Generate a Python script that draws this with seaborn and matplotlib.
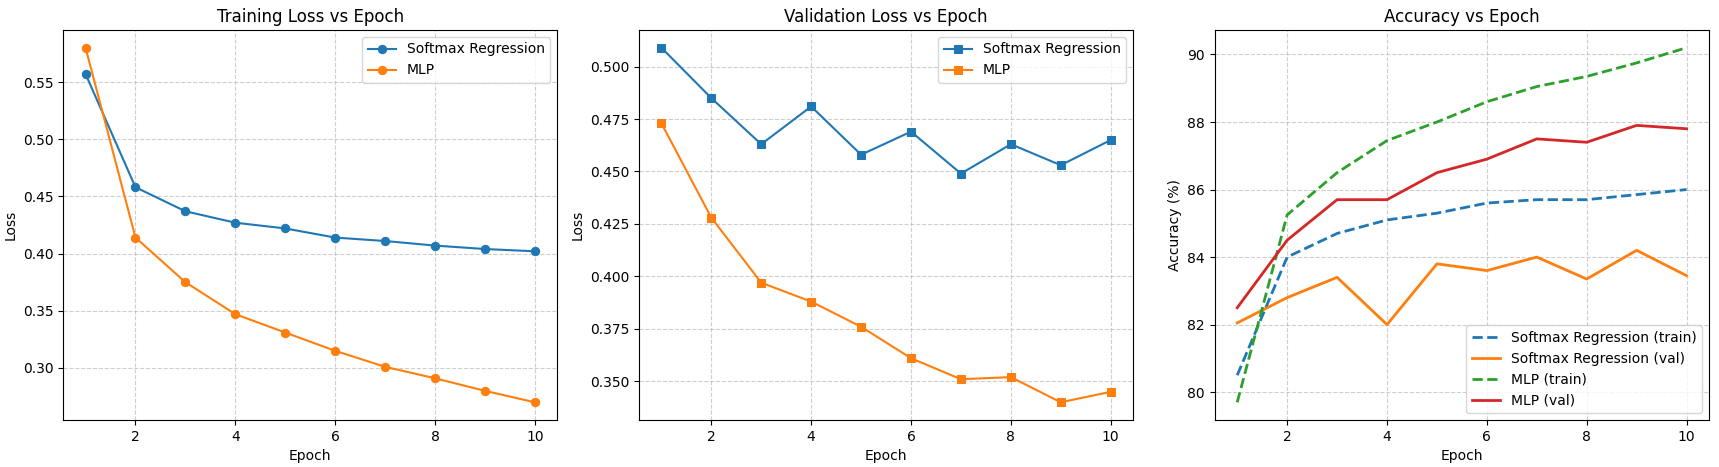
import seaborn as sns
import matplotlib.pyplot as plt
import pandas as pd
import numpy as np

# Per-epoch metrics
epochs = list(range(1, 11))

softmax_train_loss = [0.557, 0.458, 0.437, 0.427, 0.422, 0.414, 0.411, 0.407, 0.404, 0.402]
mlp_train_loss = [0.580, 0.414, 0.375, 0.347, 0.331, 0.315, 0.301, 0.291, 0.280, 0.270]

softmax_val_loss = [0.509, 0.485, 0.463, 0.481, 0.458, 0.469, 0.449, 0.463, 0.453, 0.465]
mlp_val_loss = [0.473, 0.428, 0.397, 0.388, 0.376, 0.361, 0.351, 0.352, 0.340, 0.345]

softmax_train_acc = [80.5, 84.0, 84.7, 85.1, 85.3, 85.6, 85.7, 85.7, 85.85, 86.0]
softmax_val_acc = [82.05, 82.8, 83.4, 82.0, 83.8, 83.6, 84.0, 83.35, 84.2, 83.45]
mlp_train_acc = [79.7, 85.25, 86.5, 87.45, 88.0, 88.6, 89.05, 89.35, 89.75, 90.2]
mlp_val_acc = [82.5, 84.5, 85.7, 85.7, 86.5, 86.9, 87.5, 87.4, 87.9, 87.8]

blue, orange, green, red = sns.color_palette("tab10")[:4]

fig, axes = plt.subplots(1, 3, figsize=(17.19, 4.67), dpi=100)
fig.subplots_adjust(left=0.0367, right=0.9942, top=0.9358, bottom=0.1006, wspace=0.165)

marker_kw = dict(markersize=6, markeredgewidth=0.75)

# Training loss
ax = axes[0]
sns.lineplot(x=epochs, y=softmax_train_loss, marker="o", markeredgecolor=blue,
             color=blue, label="Softmax Regression", ax=ax, **marker_kw)
sns.lineplot(x=epochs, y=mlp_train_loss, marker="o", markeredgecolor=orange,
             color=orange, label="MLP", ax=ax, **marker_kw)
ax.set_title("Training Loss vs Epoch", fontsize=12)
ax.set_ylabel("Loss")

# Validation loss
ax = axes[1]
sns.lineplot(x=epochs, y=softmax_val_loss, marker="s", markeredgecolor=blue,
             color=blue, label="Softmax Regression", ax=ax, **marker_kw)
sns.lineplot(x=epochs, y=mlp_val_loss, marker="s", markeredgecolor=orange,
             color=orange, label="MLP", ax=ax, **marker_kw)
ax.set_title("Validation Loss vs Epoch", fontsize=12)
ax.set_ylabel("Loss")

# Accuracy
ax = axes[2]
sns.lineplot(x=epochs, y=softmax_train_acc, color=blue, linestyle="--", linewidth=2,
             label="Softmax Regression (train)", ax=ax)
sns.lineplot(x=epochs, y=softmax_val_acc, color=orange, linewidth=2,
             label="Softmax Regression (val)", ax=ax)
sns.lineplot(x=epochs, y=mlp_train_acc, color=green, linestyle="--", linewidth=2,
             label="MLP (train)", ax=ax)
sns.lineplot(x=epochs, y=mlp_val_acc, color=red, linewidth=2,
             label="MLP (val)", ax=ax)
ax.set_title("Accuracy vs Epoch", fontsize=12)
ax.set_ylabel("Accuracy (%)")
ax.legend(loc="lower right")

for ax in axes:
    ax.set_xlabel("Epoch")
    ax.grid(True, linestyle="--", alpha=0.6)

plt.savefig("out.png", dpi=100)
plt.close()
